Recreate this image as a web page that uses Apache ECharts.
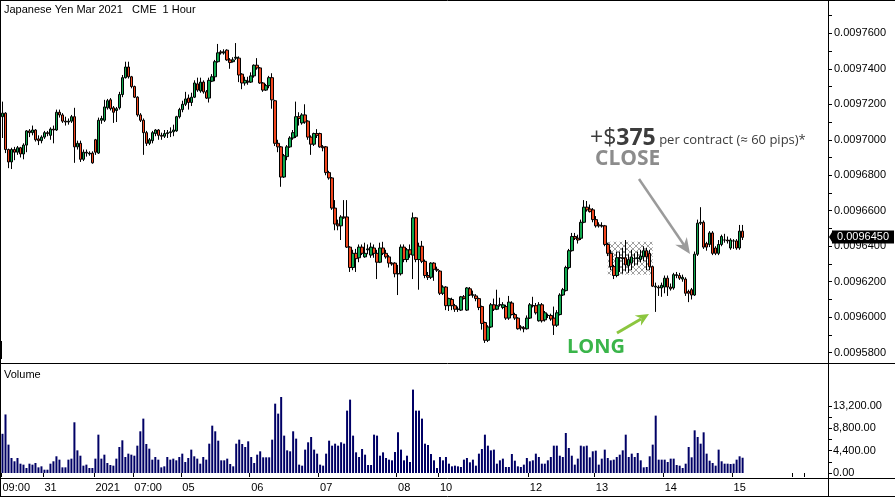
<!DOCTYPE html>
<html><head><meta charset="utf-8">
<script src="https://cdn.jsdelivr.net/npm/echarts@6/dist/echarts.min.js"></script>
<style>html,body{margin:0;padding:0;background:#fff}#c{width:895px;height:497px}</style>
</head><body><div id="c"></div><script>
// [open, close, low, high]
const ohlc = [
[0.0097130,0.0097150,0.0097010,0.0097215],[0.0097150,0.0096945,0.0096925,0.0097155],[0.0096945,0.0096875,0.0096840,0.0096950],[0.0096875,0.0096945,0.0096835,0.0096955],
[0.0096945,0.0096930,0.0096885,0.0096960],[0.0096930,0.0096955,0.0096915,0.0096965],[0.0096955,0.0096920,0.0096900,0.0096960],[0.0096920,0.0096970,0.0096890,0.0096980],
[0.0096970,0.0097050,0.0096930,0.0097055],[0.0097050,0.0097040,0.0097015,0.0097060],[0.0097040,0.0097055,0.0097025,0.0097080],[0.0097055,0.0097000,0.0096990,0.0097060],
[0.0097005,0.0096995,0.0096970,0.0097025],[0.0096995,0.0097015,0.0096980,0.0097025],[0.0097015,0.0097040,0.0097005,0.0097050],[0.0097040,0.0097035,0.0097020,0.0097050],
[0.0097025,0.0097060,0.0097000,0.0097070],[0.0097060,0.0097055,0.0096980,0.0097080],[0.0097055,0.0097155,0.0097050,0.0097170],[0.0097155,0.0097140,0.0097125,0.0097170],
[0.0097140,0.0097105,0.0097095,0.0097150],[0.0097105,0.0097100,0.0097080,0.0097130],[0.0097100,0.0097105,0.0097085,0.0097120],[0.0097105,0.0097130,0.0097095,0.0097140],
[0.0097130,0.0096960,0.0096870,0.0097180],[0.0096960,0.0096980,0.0096945,0.0096995],[0.0096980,0.0096890,0.0096875,0.0096995],[0.0096890,0.0096930,0.0096880,0.0096945],
[0.0096930,0.0096925,0.0096905,0.0096945],[0.0096920,0.0096925,0.0096910,0.0096935],[0.0096925,0.0096870,0.0096865,0.0096935],[0.0097000,0.0096930,0.0096915,0.0097005],
[0.0096925,0.0097110,0.0096920,0.0097125],[0.0097110,0.0097120,0.0097090,0.0097135],[0.0097110,0.0097185,0.0097100,0.0097225],[0.0097180,0.0097220,0.0097170,0.0097230],
[0.0097225,0.0097175,0.0097165,0.0097235],[0.0097180,0.0097155,0.0097095,0.0097190],[0.0097165,0.0097175,0.0097100,0.0097185],[0.0097180,0.0097255,0.0097170,0.0097270],
[0.0097255,0.0097350,0.0097240,0.0097365],[0.0097350,0.0097410,0.0097345,0.0097440],[0.0097410,0.0097355,0.0097345,0.0097440],[0.0097355,0.0097300,0.0097290,0.0097360],
[0.0097300,0.0097240,0.0097235,0.0097305],[0.0097240,0.0097140,0.0097130,0.0097245],[0.0097140,0.0097110,0.0097100,0.0097150],[0.0097110,0.0097040,0.0096915,0.0097120],
[0.0097040,0.0096980,0.0096965,0.0097050],[0.0096980,0.0097000,0.0096970,0.0097010],[0.0096995,0.0097040,0.0096980,0.0097050],[0.0097035,0.0097055,0.0097020,0.0097060],
[0.0097055,0.0097025,0.0097000,0.0097060],[0.0097025,0.0097020,0.0097000,0.0097040],[0.0097020,0.0097035,0.0097010,0.0097055],[0.0097035,0.0097040,0.0097010,0.0097055],
[0.0097040,0.0097045,0.0097015,0.0097070],[0.0097045,0.0097055,0.0097020,0.0097085],[0.0097050,0.0097130,0.0097045,0.0097135],[0.0097130,0.0097170,0.0097120,0.0097180],
[0.0097170,0.0097200,0.0097155,0.0097220],[0.0097200,0.0097230,0.0097190,0.0097270],
[0.0097235,0.0097210,0.0097170,0.0097255],[0.0097210,0.0097240,0.0097190,0.0097265],[0.0097240,0.0097320,0.0097235,0.0097335],[0.0097315,0.0097280,0.0097270,0.0097350],
[0.0097275,0.0097325,0.0097265,0.0097350],[0.0097325,0.0097270,0.0097260,0.0097335],[0.0097270,0.0097235,0.0097230,0.0097280],[0.0097235,0.0097335,0.0097210,0.0097350],
[0.0097330,0.0097355,0.0097325,0.0097370],[0.0097355,0.0097440,0.0097330,0.0097450],[0.0097440,0.0097490,0.0097435,0.0097540],[0.0097495,0.0097490,0.0097480,0.0097505],
[0.0097490,0.0097495,0.0097480,0.0097510],[0.0097505,0.0097450,0.0097445,0.0097510],[0.0097450,0.0097435,0.0097400,0.0097460],[0.0097440,0.0097450,0.0097435,0.0097465],
[0.0097460,0.0097465,0.0097450,0.0097545],[0.0097460,0.0097365,0.0097325,0.0097470],[0.0097370,0.0097320,0.0097285,0.0097375],[0.0097320,0.0097335,0.0097305,0.0097355],
[0.0097330,0.0097325,0.0097310,0.0097355],[0.0097325,0.0097360,0.0097320,0.0097380],[0.0097360,0.0097420,0.0097350,0.0097425],[0.0097420,0.0097405,0.0097395,0.0097460],
[0.0097405,0.0097320,0.0097315,0.0097410],[0.0097320,0.0097280,0.0097270,0.0097325],[0.0097280,0.0097305,0.0097275,0.0097315],[0.0097305,0.0097350,0.0097290,0.0097360],
[0.0097350,0.0097225,0.0097175,0.0097375],[0.0097220,0.0096980,0.0096965,0.0097225],[0.0096980,0.0096960,0.0096930,0.0097000],[0.0096960,0.0096790,0.0096735,0.0096965],
[0.0096790,0.0096910,0.0096785,0.0096920],[0.0096905,0.0096960,0.0096885,0.0096970],[0.0096960,0.0097010,0.0096955,0.0097020],[0.0097010,0.0097040,0.0097000,0.0097055],
[0.0097020,0.0097130,0.0097010,0.0097215],[0.0097130,0.0097120,0.0097080,0.0097155],[0.0097095,0.0097140,0.0097085,0.0097150],[0.0097140,0.0097100,0.0097090,0.0097200],
[0.0097105,0.0097015,0.0097000,0.0097110],[0.0097015,0.0096975,0.0096915,0.0097025],[0.0096975,0.0097035,0.0096965,0.0097040],[0.0097035,0.0097025,0.0097010,0.0097060],
[0.0097035,0.0096960,0.0096955,0.0097040],[0.0096960,0.0096955,0.0096935,0.0096970],[0.0096960,0.0096815,0.0096800,0.0096965],[0.0096815,0.0096785,0.0096775,0.0096825],
[0.0096785,0.0096615,0.0096605,0.0096790],[0.0096615,0.0096525,0.0096490,0.0096660],[0.0096525,0.0096515,0.0096490,0.0096550],[0.0096515,0.0096565,0.0096435,0.0096575],
[0.0096565,0.0096560,0.0096555,0.0096660],[0.0096565,0.0096395,0.0096390,0.0096660],[0.0096395,0.0096280,0.0096255,0.0096400],[0.0096280,0.0096360,0.0096265,0.0096380],
[0.0096360,0.0096330,0.0096255,0.0096385],[0.0096335,0.0096395,0.0096310,0.0096410],[0.0096395,0.0096360,0.0096350,0.0096410],[0.0096340,0.0096360,0.0096335,0.0096420],
[0.0096380,0.0096385,0.0096355,0.0096410],[0.0096350,0.0096395,0.0096335,0.0096420],[0.0096390,0.0096360,0.0096335,0.0096410],
[0.0096360,0.0096310,0.0096215,0.0096380],[0.0096310,0.0096390,0.0096305,0.0096420],[0.0096390,0.0096360,0.0096350,0.0096425],[0.0096360,0.0096340,0.0096330,0.0096380],
[0.0096340,0.0096305,0.0096280,0.0096350],[0.0096305,0.0096300,0.0096290,0.0096310],[0.0096305,0.0096245,0.0096225,0.0096310],[0.0096245,0.0096245,0.0096125,0.0096295],
[0.0096245,0.0096395,0.0096235,0.0096410],[0.0096395,0.0096325,0.0096310,0.0096410],[0.0096325,0.0096380,0.0096310,0.0096390],[0.0096380,0.0096355,0.0096335,0.0096410],
[0.0096350,0.0096560,0.0096215,0.0096590],[0.0096560,0.0096325,0.0096310,0.0096565],[0.0096325,0.0096400,0.0096155,0.0096420],[0.0096400,0.0096315,0.0096305,0.0096430],
[0.0096315,0.0096235,0.0096220,0.0096325],[0.0096235,0.0096225,0.0096210,0.0096255],[0.0096225,0.0096305,0.0096215,0.0096310],[0.0096305,0.0096270,0.0096205,0.0096310],
[0.0096270,0.0096265,0.0096255,0.0096285],[0.0096260,0.0096135,0.0096125,0.0096265],[0.0096135,0.0096170,0.0096125,0.0096180],[0.0096170,0.0096065,0.0096040,0.0096175],
[0.0096065,0.0096105,0.0096035,0.0096110],[0.0096100,0.0096065,0.0096040,0.0096110],[0.0096065,0.0096045,0.0096030,0.0096075],[0.0096045,0.0096045,0.0096030,0.0096060],
[0.0096040,0.0096115,0.0096035,0.0096120],[0.0096115,0.0096105,0.0096100,0.0096125],[0.0096040,0.0096165,0.0096035,0.0096170],[0.0096160,0.0096125,0.0096120,0.0096170],
[0.0096125,0.0096125,0.0096110,0.0096150],[0.0096120,0.0096105,0.0096090,0.0096130],[0.0096105,0.0096055,0.0096040,0.0096110],[0.0096060,0.0095965,0.0095930,0.0096065],
[0.0095970,0.0095870,0.0095855,0.0095975],[0.0095870,0.0095945,0.0095860,0.0095955],[0.0095945,0.0096070,0.0095940,0.0096080],[0.0096070,0.0096045,0.0096035,0.0096105],
[0.0096045,0.0096065,0.0096040,0.0096155],[0.0096070,0.0096070,0.0096060,0.0096110],[0.0096055,0.0096070,0.0096045,0.0096085],[0.0096060,0.0095995,0.0095985,0.0096070],
[0.0095995,0.0096085,0.0095985,0.0096120],[0.0096080,0.0096015,0.0096010,0.0096090],[0.0096015,0.0095995,0.0095985,0.0096025],[0.0095995,0.0095935,0.0095930,0.0096000],
[0.0095945,0.0095940,0.0095925,0.0095955],[0.0095940,0.0095935,0.0095915,0.0095950],[0.0095935,0.0095995,0.0095930,0.0096010],[0.0095995,0.0096070,0.0095990,0.0096080],
[0.0096065,0.0096065,0.0096055,0.0096115],[0.0096065,0.0096025,0.0096015,0.0096080],[0.0095980,0.0096070,0.0095975,0.0096085],[0.0096070,0.0095980,0.0095970,0.0096080],
[0.0095985,0.0096025,0.0095975,0.0096035],[0.0096010,0.0096010,0.0095995,0.0096020],[0.0096010,0.0095990,0.0095980,0.0096020],[0.0095995,0.0095955,0.0095900,0.0096060],
[0.0095955,0.0096025,0.0095945,0.0096040],[0.0096015,0.0096125,0.0096010,0.0096135],
[0.0096125,0.0096155,0.0096120,0.0096165],[0.0096150,0.0096280,0.0096145,0.0096290],[0.0096280,0.0096375,0.0096270,0.0096385],[0.0096375,0.0096455,0.0096370,0.0096475],
[0.0096455,0.0096445,0.0096435,0.0096475],[0.0096445,0.0096435,0.0096415,0.0096465],[0.0096445,0.0096535,0.0096435,0.0096550],[0.0096535,0.0096620,0.0096530,0.0096660],
[0.0096620,0.0096605,0.0096595,0.0096655],[0.0096610,0.0096595,0.0096590,0.0096635],[0.0096605,0.0096550,0.0096535,0.0096615],[0.0096550,0.0096515,0.0096505,0.0096570],
[0.0096520,0.0096515,0.0096505,0.0096535],[0.0096515,0.0096515,0.0096505,0.0096535],[0.0096515,0.0096410,0.0096400,0.0096520],[0.0096410,0.0096360,0.0096345,0.0096420],
[0.0096360,0.0096285,0.0096265,0.0096380],[0.0096285,0.0096235,0.0096215,0.0096295],[0.0096235,0.0096335,0.0096225,0.0096370],[0.0096335,0.0096335,0.0096255,0.0096370],
[0.0096335,0.0096330,0.0096245,0.0096390],[0.0096335,0.0096295,0.0096260,0.0096435],[0.0096290,0.0096325,0.0096250,0.0096355],[0.0096305,0.0096340,0.0096265,0.0096380],
[0.0096330,0.0096330,0.0096290,0.0096360],[0.0096330,0.0096335,0.0096295,0.0096370],[0.0096325,0.0096345,0.0096310,0.0096380],[0.0096340,0.0096375,0.0096315,0.0096400],
[0.0096375,0.0096340,0.0096265,0.0096390],[0.0096360,0.0096285,0.0096265,0.0096380],[0.0096285,0.0096175,0.0096170,0.0096290],[0.0096170,0.0096175,0.0096030,0.0096195],
[0.0096170,0.0096165,0.0096120,0.0096180],[0.0096165,0.0096180,0.0096115,0.0096195],[0.0096170,0.0096220,0.0096135,0.0096235],[0.0096220,0.0096170,0.0096120,0.0096235],
[0.0096170,0.0096160,0.0096150,0.0096190],[0.0096165,0.0096240,0.0096155,0.0096250],[0.0096240,0.0096235,0.0096220,0.0096255],[0.0096235,0.0096220,0.0096210,0.0096250],
[0.0096215,0.0096225,0.0096200,0.0096240],[0.0096215,0.0096135,0.0096120,0.0096225],[0.0096145,0.0096135,0.0096085,0.0096155],[0.0096155,0.0096125,0.0096100,0.0096165],
[0.0096125,0.0096355,0.0096120,0.0096370],[0.0096355,0.0096530,0.0096345,0.0096550],[0.0096530,0.0096535,0.0096520,0.0096620],[0.0096535,0.0096395,0.0096385,0.0096545],
[0.0096415,0.0096395,0.0096375,0.0096425],[0.0096410,0.0096475,0.0096395,0.0096485],[0.0096475,0.0096360,0.0096350,0.0096485],[0.0096390,0.0096360,0.0096350,0.0096400],
[0.0096360,0.0096410,0.0096350,0.0096435],[0.0096410,0.0096455,0.0096400,0.0096465],[0.0096435,0.0096435,0.0096420,0.0096470],[0.0096435,0.0096430,0.0096415,0.0096455],
[0.0096390,0.0096435,0.0096380,0.0096445],[0.0096430,0.0096430,0.0096385,0.0096440],[0.0096430,0.0096390,0.0096380,0.0096440],[0.0096390,0.0096485,0.0096380,0.0096520],
[0.0096485,0.0096450,0.0096435,0.0096520]
];

const volumes = [
7700,11500,5570,2950,2300,2950,1830,1640,980,1830,
1640,1970,1110,1310,650,650,1830,2300,3280,2620,
1110,1110,2620,2820,9960,4450,3400,1440,1640,980,
980,2820,7530,2820,3600,1970,1570,1440,2820,5110,
6420,3140,3800,3600,3400,5370,8190,10680,5700,4780,
2620,3140,2620,1110,1310,3140,2620,2820,2490,3140,
3800,2160,2950,4590,3280,2820,1830,3140,2620,5760,
9300,8190,6350,2490,2490,2820,1770,1310,5760,6550,
5700,5110,6220,3140,1970,3600,4260,3080,3080,3080,
6550,13620,11660,14930,7340,4450,4260,8190,6750,1640,
1440,4590,6030,7070,4590,3800,1640,1440,3800,6350,
5370,5760,5370,6030,5760,12250,14410,7340,4060,3140,
4720,3600,1570,1570,7530,7340,3400,4060,2950,2620,
2490,4130,8000,4590,2490,3400,2160,16380,12250,12250,
10680,5760,5500,3730,2490,980,3140,2490,3140,1830,
1310,1440,1310,1180,2620,2950,2100,2620,1440,3800,
4720,7530,5370,4450,4590,1830,2490,2820,1180,1180,
3730,2420,1310,1180,1640,2950,2300,2490,3800,3140,
1830,1830,2490,3140,5370,5370,3400,3140,7860,4910,
3400,1640,2820,5370,5240,5370,3080,4260,4390,1640,
2820,4590,2950,2490,2620,3140,3600,4450,7530,3140,
3800,3140,3930,2490,1110,1180,3280,5570,11270,2620,
2620,2620,2160,2820,2820,1570,1440,980,1830,5110,
3080,8380,7070,5760,7990,3800,2420,1970,1440,4590,
2300,1830,1830,1770,1830,2620,3280,3000
];

const priceLabels = [0.00958,0.0096,0.00962,0.00964,0.00966,0.00968,0.0097,0.00972,0.00974,0.00976];
const priceTicks = [0.00958,0.00959,0.0096,0.00961,0.00962,0.00963,0.00964,0.00965,0.00966,0.00967,0.00968,0.00969,0.0097,0.00971,0.00972,0.00973,0.00974,0.00975,0.00976,0.00977];
const volumeLabels = [0,4400,8800,13200];
const volumeTicks = [0,2200,4400,6600,8800,11000,13200];
const timeTickIndex = [0,14,31,44,60,83,106,132,146,176,198,221,244,264,268];
const timeTickLabels = ['09:00','31','2021','07:00','05','06','07','08','10','12','13','14','15','',''];
const yearBreakIndex = [31];
const slotCount = 276;
const lastPrice = 0.0096450;
const hatchZone = [[202, 0.0096425], [217, 0.0096240]];

const slots = Array.from({length: slotCount}, (_, i) => String(i));
const tickMap = {};
timeTickIndex.forEach((t, k) => { tickMap[t] = timeTickLabels[k]; });

const pc = document.createElement('canvas'); pc.width = 6; pc.height = 6;
const g = pc.getContext('2d'); g.strokeStyle = '#a0a0a0'; g.lineWidth = 1;
g.beginPath(); g.moveTo(0, 0); g.lineTo(6, 6); g.moveTo(6, 0); g.lineTo(0, 6); g.stroke();

const FONT = 'Liberation Sans, Arial, sans-serif';
const chart = echarts.init(document.getElementById('c'), null, {renderer: 'canvas'});
const line = (x1, y1, x2, y2, w, c) => ({type: 'line', silent: true, z: 100, shape: {x1, y1, x2, y2}, style: {stroke: c || '#000', lineWidth: w || 1}});

chart.setOption({
  animation: false,
  backgroundColor: '#fff',
  grid: [
    {left: 1, right: 67, top: 1, height: 362, containLabel: false, outerBoundsMode: 'none'},
    {left: 1, right: 67, top: 364, height: 109, containLabel: false, outerBoundsMode: 'none'}
  ],
  xAxis: [
    {type: 'category', gridIndex: 0, data: slots, boundaryGap: true, axisLine: {show: false}, axisTick: {show: false}, axisLabel: {show: false}, splitLine: {show: false}},
    {type: 'category', gridIndex: 1, data: slots, boundaryGap: true, offset: 5, axisLine: {show: false},
      axisTick: {show: true, length: 4, lineStyle: {color: '#000'}, interval: (i) => tickMap[i] !== undefined},
      axisLabel: {show: true, interval: (i) => tickMap[i] !== undefined, formatter: (v, i) => tickMap[i] || '', align: 'left', margin: 4, color: '#000', fontSize: 11, fontFamily: FONT},
      splitLine: {show: false}},
    {type: 'category', gridIndex: 1, data: slots, boundaryGap: true, offset: 5, axisLine: {show: false},
      axisTick: {show: true, length: 18, lineStyle: {color: '#000'}, interval: (i) => yearBreakIndex.includes(i)},
      axisLabel: {show: false}, splitLine: {show: false}}
  ],
  yAxis: [
    {type: 'value', gridIndex: 0, position: 'right', min: 0.0095742, max: 0.0097782, scale: true,
      axisLine: {show: false}, splitLine: {show: false},
      axisTick: {show: true, length: 4, inside: false, customValues: priceTicks, lineStyle: {color: '#000'}},
      axisLabel: {show: true, customValues: priceLabels, margin: 6, color: '#000', fontSize: 11, fontFamily: FONT, formatter: v => v.toFixed(7)}},
    {type: 'value', gridIndex: 1, position: 'right', min: 0, max: 21410,
      axisLine: {show: false}, splitLine: {show: false},
      axisTick: {show: true, length: 4, customValues: volumeTicks, lineStyle: {color: '#000'}},
      axisLabel: {show: true, customValues: volumeLabels, margin: 5, color: '#000', fontSize: 11, fontFamily: FONT,
        formatter: v => v.toLocaleString('en-US', {minimumFractionDigits: 2, maximumFractionDigits: 2})}}
  ],
  series: [
    {type: 'candlestick', xAxisIndex: 0, yAxisIndex: 0, data: ohlc, barWidth: 3,
      itemStyle: {color: '#10a84e', color0: '#f2461e', borderColor: '#000', borderColor0: '#000', borderColorDoji: '#000', borderWidth: 1},
      markArea: {silent: true, z: 1, itemStyle: {color: {image: pc, repeat: 'repeat'}},
        data: [[{xAxis: hatchZone[0][0], yAxis: hatchZone[0][1]}, {xAxis: hatchZone[1][0], yAxis: hatchZone[1][1]}]]}
    },
    {type: 'bar', xAxisIndex: 1, yAxisIndex: 1, data: volumes, barWidth: 2, itemStyle: {color: '#000066'}}
  ]
});

const py = Math.round(chart.convertToPixel({yAxisIndex: 0}, lastPrice));
chart.setOption({
  graphic: [
    line(0, 0.5, 895, 0.5), line(0, 363.5, 895, 363.5), line(0, 478.5, 895, 478.5), line(0, 496.5, 895, 496.5),
    line(0.5, 0, 0.5, 497), line(828.5, 0, 828.5, 497),
    {type: 'text', x: 4, y: 4, silent: true, style: {text: 'Japanese Yen Mar 2021   CME  1 Hour', fill: '#000', font: '11px ' + FONT}},
    {type: 'text', x: 4, y: 369, silent: true, style: {text: 'Volume', fill: '#000', font: '11px ' + FONT}},
    {type: 'text', x: 590, y: 127, silent: true, z: 50, style: {
      text: '{a|+$}{b|375}{c| per contract (≈ 60 pips)*}',
      rich: {
        a: {fontSize: 23, fontFamily: 'Open Sans', fill: '#3c3c3c', verticalAlign: 'bottom'},
        b: {fontSize: 23, fontFamily: 'Open Sans', fontWeight: 'bold', fill: '#3c3c3c', verticalAlign: 'bottom'},
        c: {fontSize: 13, fontFamily: 'Open Sans', fill: '#3c3c3c', verticalAlign: 'bottom', padding: [0, 0, 3, 0]}
      }}},
    {type: 'text', x: 595, y: 149, silent: true, z: 50, style: {text: 'CLOSE', fill: '#8c8c8c', font: 'bold 21px Open Sans'}},
    {type: 'text', x: 567, y: 337, silent: true, z: 50, style: {text: 'LONG', fill: '#3ab54a', font: 'bold 20px Open Sans'}},
    {type: 'line', silent: true, z: 50, shape: {x1: 639, y1: 179, x2: 684, y2: 245}, style: {stroke: '#9b9b9b', lineWidth: 2.5}},
    {type: 'polygon', silent: true, z: 50, shape: {points: [[690, 254], [686.8, 236.9], [683.8, 244.9], [675.2, 244.7]]}, style: {fill: '#9b9b9b'}},
    {type: 'line', silent: true, z: 50, shape: {x1: 617, y1: 333, x2: 641, y2: 319}, style: {stroke: '#8cc63f', lineWidth: 3}},
    {type: 'polygon', silent: true, z: 50, shape: {points: [[649, 314], [634.7, 315.4], [641.3, 318.6], [640.9, 325.8]]}, style: {fill: '#8cc63f'}},
    {type: 'polygon', silent: true, z: 120, shape: {points: [[829, py], [833, py - 6.5], [833, py + 6.5]]}, style: {fill: '#000'}},
    {type: 'rect', silent: true, z: 120, shape: {x: 832, y: py - 6.5, width: 62, height: 13}, style: {fill: '#000'}},
    {type: 'text', silent: true, z: 121, x: 863, y: py, style: {text: lastPrice.toFixed(7), fill: '#fff', font: '11px ' + FONT, align: 'center', verticalAlign: 'middle'}}
  ]
});
</script></body></html>
